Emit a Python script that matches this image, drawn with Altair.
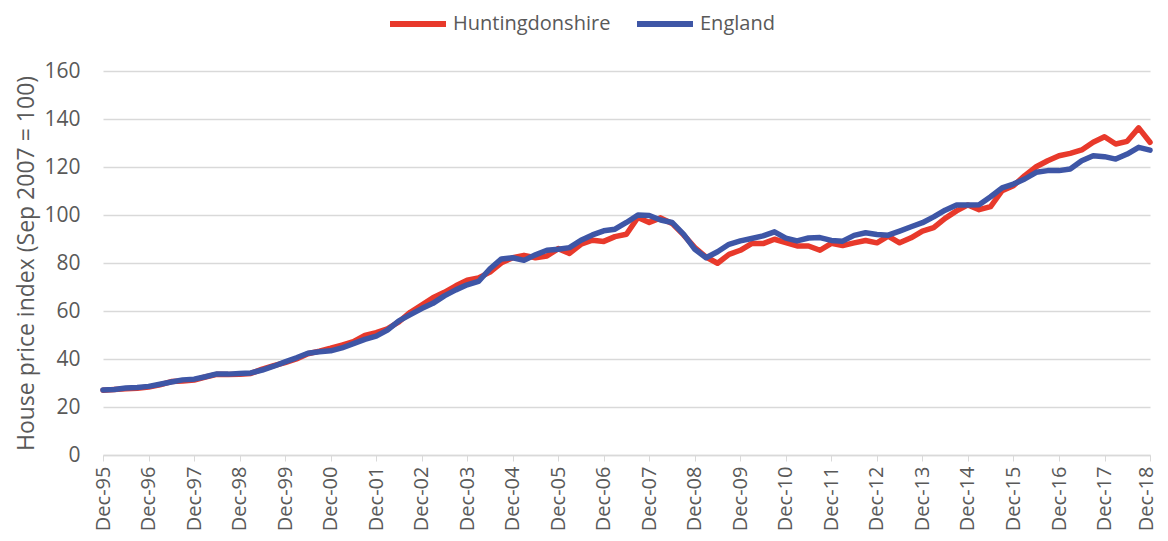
import altair as alt
import pandas as pd

# Quarterly readings (months from Dec-95 in steps of 3)
start_year, start_month = 1995, 12
huntingdonshire = [
    27.0, 27.3, 27.6, 27.8, 28.3, 29.2, 30.6, 30.8,
    31.2, 32.5, 33.6, 33.5, 33.6, 34.0, 35.8, 37.2,
    38.5, 40.0, 42.2, 43.3, 44.5, 45.8, 47.2, 49.8,
    51.0, 52.6, 55.5, 59.5, 62.5, 65.5, 67.8, 70.5,
    72.8, 73.8, 76.2, 80.1, 82.2, 83.2, 82.2, 82.9,
    86.0, 84.0, 87.8, 89.5, 89.0, 91.0, 92.0, 99.0,
    96.9, 98.8, 96.5, 91.7, 86.4, 82.5, 79.9, 83.6,
    85.3, 88.1, 88.1, 89.9, 88.5, 87.1, 87.1, 85.3,
    88.2, 87.3, 88.4, 89.4, 88.4, 91.2, 88.4, 90.5,
    93.3, 94.7, 98.6, 101.7, 104.2, 102.2, 103.5, 110.1,
    112.2, 116.4, 120.1, 122.6, 124.7, 125.7, 127.1, 130.3,
    132.6, 129.6, 130.7, 136.3, 130.3,
]
england = [
    27.1, 27.3, 27.9, 28.1, 28.6, 29.5, 30.4, 31.3,
    31.6, 32.6, 33.8, 33.7, 34.0, 34.2, 35.4, 37.0,
    38.8, 40.5, 42.4, 43.0, 43.4, 44.6, 46.4, 48.2,
    49.5, 52.0, 55.9, 58.5, 61.0, 63.2, 66.3, 68.8,
    70.9, 72.3, 77.6, 81.7, 82.2, 81.1, 83.4, 85.3,
    85.7, 86.4, 89.5, 91.7, 93.4, 94.1, 96.9, 100.0,
    99.8, 97.9, 96.9, 92.0, 85.7, 82.2, 84.7, 87.8,
    89.2, 90.2, 91.3, 93.0, 90.4, 89.2, 90.4, 90.6,
    89.4, 89.1, 91.5, 92.6, 91.9, 91.6, 93.3, 95.1,
    96.8, 99.2, 102.0, 104.2, 104.2, 104.3, 107.6, 111.3,
    112.9, 115.0, 117.8, 118.5, 118.5, 119.2, 122.6, 124.7,
    124.3, 123.3, 125.4, 128.2, 127.0,
]
series_names = ["Huntingdonshire", "England"]
series_colors = ["#E8392B", "#3E56A6"]
tick_years = list(range(1995, 2019))


def month_dates(n):
    out = []
    for i in range(n):
        m = start_month - 1 + 3 * i
        y = start_year + m // 12
        out.append(f"{y:04d}-{m % 12 + 1:02d}-01")
    return out


rows = []
for name, vals in zip(series_names, [huntingdonshire, england]):
    for d, v in zip(month_dates(len(vals)), vals):
        rows.append({"date": d, "series": name, "value": v})
df = pd.DataFrame(rows)

tick_values = [alt.DateTime(year=y, month=12, date=1) for y in tick_years]

grey_text = "#595959"
font = "Open Sans"

chart = (
    alt.Chart(df)
    .mark_line(strokeWidth=5.5, strokeCap="round", strokeJoin="round")
    .encode(
        x=alt.X(
            "date:T",
            scale=alt.Scale(
                domain=[alt.DateTime(year=1995, month=12, date=1),
                        alt.DateTime(year=2018, month=12, date=1)],
                nice=False,
            ),
            axis=alt.Axis(
                values=tick_values,
                format="%b-%y",
                labelAngle=-90,
                labelFontSize=20,
                labelColor=grey_text,
                labelFont=font,
                labelPadding=5,
                labelOffset={"condition": {"test": "year(datum.value) >= 2018", "value": -4}, "value": 0},
                tickSize=6,
                tickColor="#D9D9D9",
                domainColor="#D9D9D9",
                domainWidth=1.5,
                grid=False,
                title=None,
                labelOverlap=False,
                labelBound=False,
            ),
        ),
        y=alt.Y(
            "value:Q",
            scale=alt.Scale(domain=[0, 160], nice=False),
            axis=alt.Axis(
                values=list(range(0, 161, 20)),
                title="House price index (Sep 2007 = 100)",
                titleFontSize=23,
                titleFont=font,
                titleFontWeight="normal",
                titleColor=grey_text,
                titlePadding=5,
                labelFontSize=21,
                labelFont=font,
                labelColor=grey_text,
                labelPadding=23,
                ticks=False,
                domain=False,
                gridColor="#D9D9D9",
                gridWidth=1.5,
            ),
        ),
        color=alt.Color(
            "series:N",
            scale=alt.Scale(domain=series_names, range=series_colors),
            sort=series_names,
            legend=alt.Legend(
                title=None,
                orient="none",
                direction="horizontal",
                legendX=284,
                legendY=-78,
                symbolType="stroke",
                symbolSize=3136,
                symbolStrokeWidth=6,
                labelFontSize=20,
                labelFont=font,
                labelColor=grey_text,
                labelOffset=4,
                columnPadding=14,
                padding=0,
            ),
        ),
        order=alt.Order("date:T"),
    )
    .properties(
        width=1047,
        height=384,
        autosize=alt.AutoSizeParams(type="none"),
        padding={"left": 95, "top": 63, "right": 10, "bottom": 78},
    )
    .configure_view(stroke=None)
)

chart.save("out.html", embed_options={"renderer": "svg", "actions": False})
